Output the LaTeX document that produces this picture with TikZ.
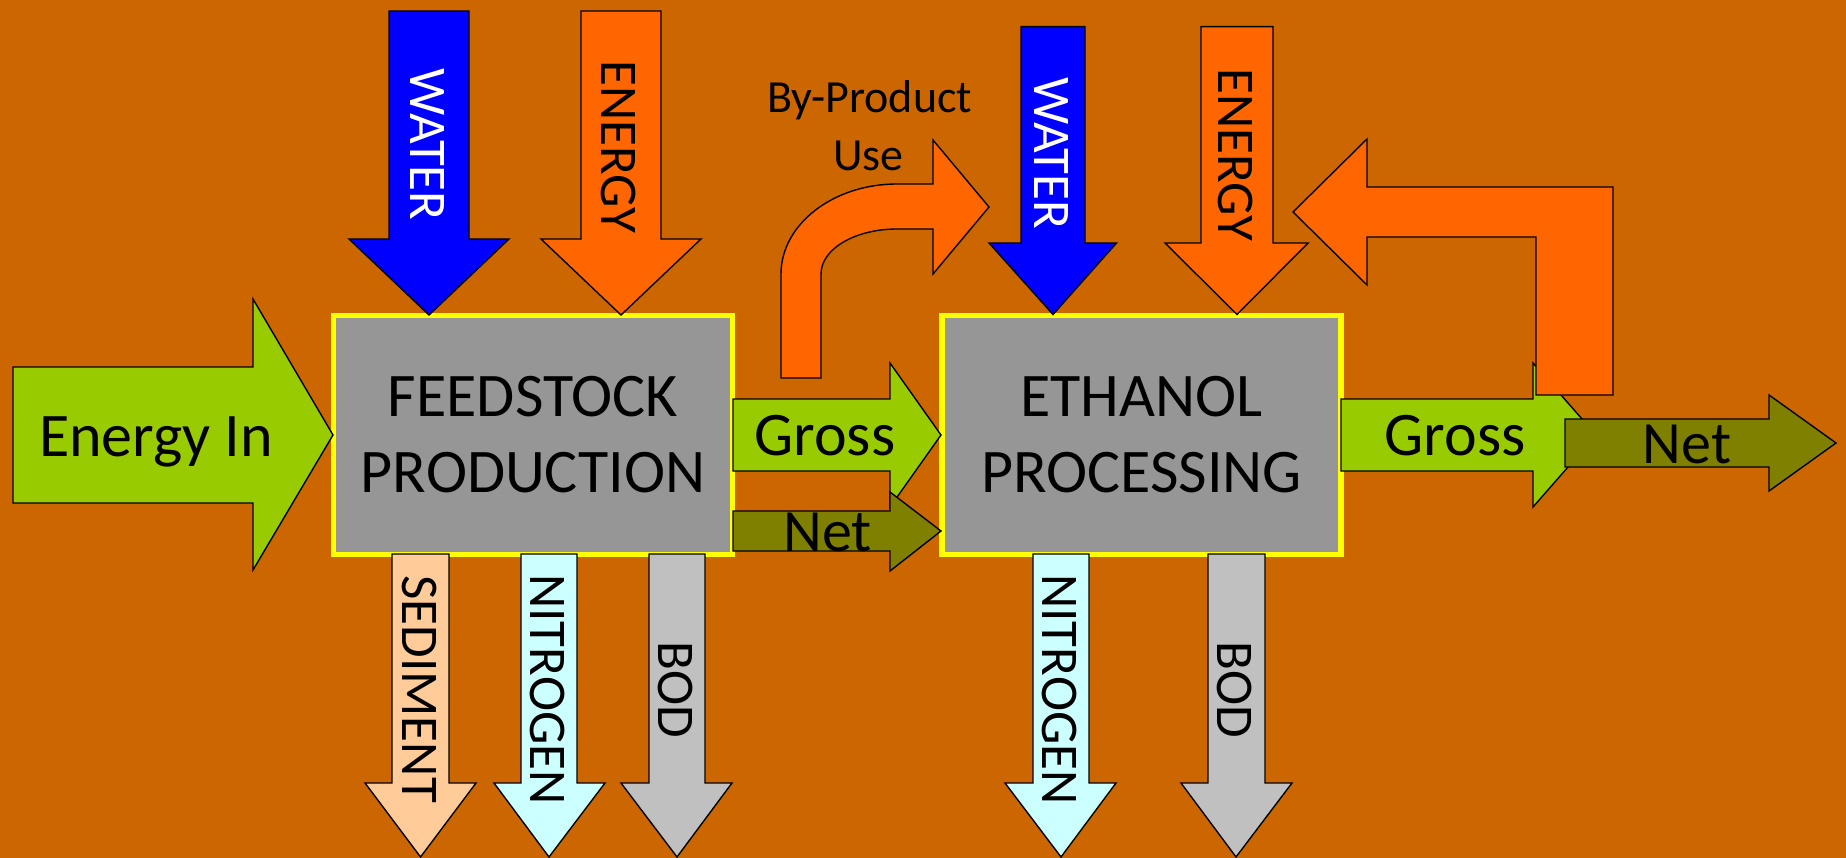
\documentclass[tikz,border=0pt]{standalone}
\usepackage{fontspec}
\setmainfont{Carlito}
\definecolor{bgc}{HTML}{CC6600}
\definecolor{waterc}{HTML}{0000FF}
\definecolor{energyc}{HTML}{FF6600}
\definecolor{greenc}{HTML}{99CC00}
\definecolor{olivec}{HTML}{808000}
\definecolor{boxc}{HTML}{969696}
\definecolor{yelc}{HTML}{FFFF00}
\definecolor{sedc}{HTML}{FFCC99}
\definecolor{nitc}{HTML}{CCFFFF}
\definecolor{bodc}{HTML}{C0C0C0}
\newcommand\myfs[1]{\fontsize{#1}{#1}\selectfont}
\newcommand\myboxfont{\fontsize{62}{76}\selectfont}
\begin{document}
\begin{tikzpicture}[x=1pt,y=-1pt,
  arr/.style={draw=black,line width=1.4pt,line join=miter},
  procbox/.style={draw=yelc,fill=boxc,line width=5.5pt,minimum width=399pt,minimum height=239pt,
    align=center,font=\myboxfont,inner sep=0pt},
  hlab/.style={anchor=base,inner sep=0pt,font=\myfs{62}},
  vlab/.style={rotate=-90,anchor=base,inner sep=0pt,font=\myfs{53}}]
% background
\fill[bgc] (0,0) rectangle (1846,858);
\useasboundingbox (0,0) rectangle (1846,858);
% process boxes
\node[procbox] (feed) at (533,435) {FEEDSTOCK\\PRODUCTION};
\node[procbox] (eth) at (1141.5,435) {ETHANOL\\PROCESSING};
% Energy In
\path[arr,fill=greenc] (13,367) -- (253,367) -- (253,299) -- (333,435) -- (253,570) -- (253,503) -- (13,503) -- cycle;
% top input arrows, feedstock
\path[arr,fill=waterc] (389,11) -- (469,11) -- (469,239) -- (509,239) -- (429,315) -- (349,239) -- (389,239) -- cycle;
\path[arr,fill=energyc] (581,11) -- (661,11) -- (661,239) -- (701,239) -- (621,315) -- (541,239) -- (581,239) -- cycle;
% top input arrows, ethanol
\path[arr,fill=waterc] (1021,26.6) -- (1085,26.6) -- (1085,243) -- (1116.5,243) -- (1053,314.5) -- (989,243) -- (1021,243) -- cycle;
\path[arr,fill=energyc] (1201,26.6) -- (1273,26.6) -- (1273,243) -- (1308,243) -- (1237,314.5) -- (1165,243) -- (1201,243) -- cycle;
% by-product arrow
\path[arr,fill=energyc] (781,378) -- (821,378) -- (821,274) .. controls (821,249) and (855,229) .. (897,229) -- (933,229) -- (933,274) -- (989,207) -- (933,140) -- (933,184) -- (897,184) .. controls (833,184) and (781,224.5) .. (781,274) -- cycle;
% gross / net 1
\path[arr,fill=greenc] (733,399) -- (890,399) -- (890,363) -- (941,435) -- (890,507) -- (890,471) -- (733,471) -- cycle;
\path[arr,fill=olivec] (733,511) -- (890,511) -- (890,492) -- (941,531) -- (890,571) -- (890,551) -- (733,551) -- cycle;
% gross 2
\path[arr,fill=greenc] (1341,399) -- (1533,399) -- (1533,363) -- (1596,435) -- (1533,507) -- (1533,471) -- (1341,471) -- cycle;
% return arrow
\path[arr,fill=energyc] (1613,187) -- (1613,395) -- (1536,395) -- (1536,237) -- (1367,237) -- (1367,285) -- (1293,212) -- (1367,139) -- (1367,187) -- cycle;
% net 2
\path[arr,fill=olivec] (1565,419) -- (1769,419) -- (1769,395) -- (1836,443) -- (1769,491) -- (1769,467) -- (1565,467) -- cycle;
% bottom output arrows
\path[arr,fill=sedc] (392,554) -- (449,554) -- (449,783) -- (476,783) -- (420.5,857) -- (365,783) -- (392,783) -- cycle;
\path[arr,fill=nitc] (521,554) -- (577,554) -- (577,783) -- (605,783) -- (549,857) -- (494,783) -- (521,783) -- cycle;
\path[arr,fill=bodc] (649,554) -- (705,554) -- (705,783) -- (732,783) -- (677,857) -- (621,783) -- (649,783) -- cycle;
\path[arr,fill=nitc] (1033,554) -- (1089,554) -- (1089,783) -- (1116,783) -- (1061,857) -- (1005,783) -- (1033,783) -- cycle;
\path[arr,fill=bodc] (1208,554) -- (1265,554) -- (1265,783) -- (1292,783) -- (1236,857) -- (1181,783) -- (1208,783) -- cycle;
% labels
\node[hlab] (ein) at (156,456) {Energy In};
\node[hlab] (g1) at (825,455) {Gross};
\node[hlab,font=\myfs{60}] (n1) at (827.5,551) {Net};
\node[hlab] (g2) at (1455,455) {Gross};
\node[hlab,font=\myfs{60}] (n2) at (1687,463) {Net};
\node[hlab,font=\myfs{46}] (bp1) at (869.5,113) {By-Product};
\node[hlab,font=\myfs{46}] (bp2) at (868.5,171) {Use};
\node[vlab,text=white] (w1) at (410.7,144.7) {WATER};
\node[vlab] (e1) at (601.7,146.7) {ENERGY};
\node[vlab,text=white] (w2) at (1034,153.5) {WATER};
\node[vlab] (e2) at (1218,155) {ENERGY};
\node[vlab] (sed) at (402.7,689.2) {SEDIMENT};
\node[vlab] (nit1) at (530.7,689.5) {NITROGEN};
\node[vlab] (bod1) at (658,690) {BOD};
\node[vlab] (nit2) at (1042,689.5) {NITROGEN};
\node[vlab] (bod2) at (1217.6,690) {BOD};
\end{tikzpicture}
\end{document}
